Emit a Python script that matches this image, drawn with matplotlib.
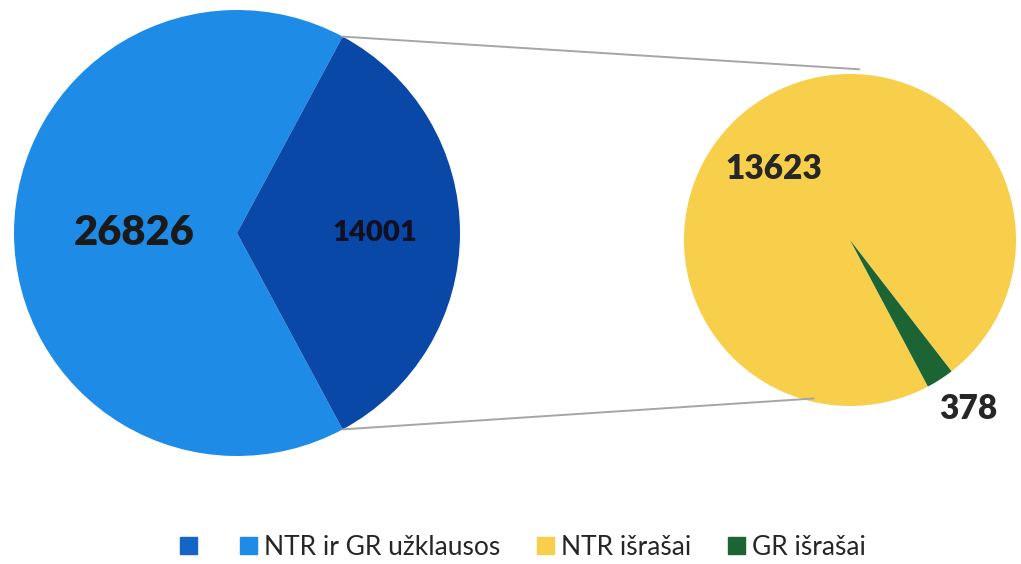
import numpy as np
import matplotlib.pyplot as plt
from matplotlib.patches import Patch

# data
main_labels = ['NTR ir GR užklausos', 'išrašai']
main_values = [26826, 14001]
sub_labels = ['NTR išrašai', 'GR išrašai']
sub_values = [13623, 378]

main_colors = ['#1E8CE6', '#0A48A8']
sub_colors = ['#F8CF4A', '#1D6435']
legend_first = '#1565C8'
text_color = '#262626'

plt.rcParams['font.family'] = ['Lato', 'DejaVu Sans']

fig = plt.figure(figsize=(10.21, 5.64), dpi=100)
ax = fig.add_axes([0, 0, 1, 1])

# left pie (pixel-based layout)
c1 = (237, 331)
r1 = 223
dark_span = 360 * main_values[1] / sum(main_values)
start1 = dark_span / 2
w1, _ = ax.pie(main_values, colors=main_colors, startangle=start1,
               center=c1, radius=r1, wedgeprops=dict(linewidth=0), frame=True)

# right pie
c2 = (850, 324)
r2 = 166
green_span = 360 * sub_values[1] / sum(sub_values)
start2 = -62 + green_span
w2, _ = ax.pie(sub_values, colors=sub_colors, startangle=start2,
               center=c2, radius=r2, wedgeprops=dict(linewidth=0), frame=True)
ax.set_xlim(0, 1021)
ax.set_ylim(0, 564)
ax.set_aspect('equal')
ax.axis('off')


def polar(c, r, ang):
    a = np.deg2rad(ang)
    return c[0] + r * np.cos(a), c[1] + r * np.sin(a)


# connector lines from the dark slice to the small pie
p_top = polar(c1, r1, w1[1].theta2)
p_bot = polar(c1, r1, w1[1].theta1)
q_top = polar(c2, r2 * 1.03, 87)
q_bot = polar(c2, r2 * 0.98, -103)
ax.plot([p_top[0], q_top[0]], [p_top[1], q_top[1]], color='#A6A6A6', lw=1.4)
ax.plot([p_bot[0], q_bot[0]], [p_bot[1], q_bot[1]], color='#A6A6A6', lw=1.4)

# value labels
x, y = polar(c1, r1 * 0.46, 180)
ax.text(x, y, f'{main_values[0]}', ha='center', va='center',
        fontsize=30, fontweight='heavy', color='#1a1a1a')
x, y = polar(c1, r1 * 0.62, 0)
ax.text(x, y, f'{main_values[1]}', ha='center', va='center',
        fontsize=21, fontweight='heavy', color='#10101e')
x, y = polar(c2, r2 * 0.63, 137)
ax.text(x, y, f'{sub_values[0]}', ha='center', va='center',
        fontsize=24, fontweight='heavy', color=text_color)
x, y = polar(c2, r2 * 1.24, -55)
ax.text(x, y, f'{sub_values[1]}', ha='center', va='center',
        fontsize=24, fontweight='heavy', color=text_color)

# legend
handles = [Patch(color=legend_first), Patch(color=main_colors[0]),
           Patch(color=sub_colors[0]), Patch(color=sub_colors[1])]
labels = [''] + [main_labels[0]] + sub_labels
fig.legend(handles, labels, loc='center', bbox_to_anchor=(0.512, 0.03),
           ncol=4, frameon=False, fontsize=19, handlelength=0.65,
           handleheight=0.65, handletextpad=0.25, columnspacing=1.4,
           labelcolor=text_color)

fig.savefig('out.png', dpi=100)
